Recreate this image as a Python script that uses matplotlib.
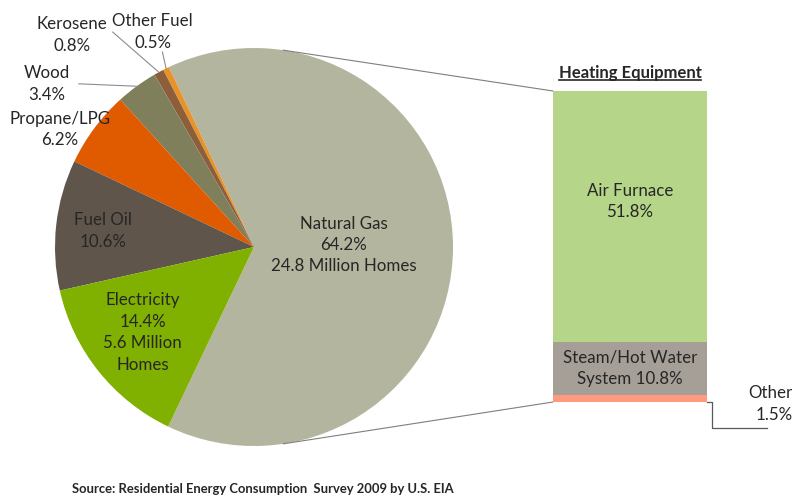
import numpy as np
import matplotlib.pyplot as plt
from matplotlib.patches import ConnectionPatch

plt.rcParams['font.family'] = ['Lato', 'DejaVu Sans']

# pie data (counter-clockwise starting with the split slice)
fuels = ['Natural Gas', 'Other Fuel', 'Kerosene', 'Wood', 'Propane/LPG', 'Fuel Oil', 'Electricity']
fuel_share = [64.2, 0.5, 0.8, 3.4, 6.2, 10.6, 14.4]
fuel_colors = ['#B3B59E', '#E8922A', '#8C5F3A', '#7F7F5B', '#E05A00', '#5F554B', '#80B000']

# bar data (bottom to top)
equipment = ['Other', 'Steam/Hot Water\nSystem', 'Air Furnace']
equip_share = [1.5, 10.8, 51.8]
equip_colors = ['#FF9980', '#A59F97', '#B5D588']

txt = '#262626'

fig = plt.figure(figsize=(7.94, 4.95), dpi=100)

# pie axes: centre at (254, 247) px, radius 199 px
ax = fig.add_axes([55 / 794, (495 - 446) / 495, 398 / 794, 398 / 495])
start = -fuel_share[0] / 100 * 360 / 2
wedges, _ = ax.pie(fuel_share, colors=fuel_colors, startangle=start,
                   counterclock=True, radius=1, wedgeprops=dict(linewidth=0))
ax.set_xlim(-1, 1)
ax.set_ylim(-1, 1)
ax.set_aspect('equal')


def pct(v):
    return '%.1f%%' % v


fs = 12.2
ls = 1.42
# labels inside the pie
ax.text(0.45, 0.01, 'Natural Gas\n%s\n24.8 Million Homes' % pct(fuel_share[0]),
        ha='center', va='center', fontsize=fs, color=txt, linespacing=ls)
ax.text(-0.56, -0.43, 'Electricity\n%s\n5.6 Million\nHomes' % pct(fuel_share[6]),
        ha='center', va='center', fontsize=fs, color=txt, linespacing=ls)
ax.text(-0.76, 0.08, 'Fuel Oil\n%s' % pct(fuel_share[5]),
        ha='center', va='center', fontsize=fs, color=txt, linespacing=ls)

# labels outside the pie
outside = {
    4: ((-0.975, 0.59), None),
    3: ((-1.04, 0.82), (-0.88, 0.82)),
    2: ((-0.915, 1.065), (-0.71, 1.08)),
    1: ((-0.51, 1.08), (-0.46, 0.98)),
}
for i, (pos, lead) in outside.items():
    ax.text(pos[0], pos[1], '%s\n%s' % (fuels[i], pct(fuel_share[i])),
            ha='center', va='center', fontsize=fs, color=txt, linespacing=ls)
    if lead is not None:
        w = wedges[i]
        mid = np.deg2rad((w.theta1 + w.theta2) / 2)
        ax.plot([lead[0], np.cos(mid)], [lead[1], np.sin(mid)],
                color='#8c8c8c', lw=0.8, clip_on=False)

# stacked bar for heating equipment
bx = fig.add_axes([553 / 794, (495 - 402) / 495, 154 / 794, 311 / 495])
bottom = 0
for name, v, c in zip(equipment, equip_share, equip_colors):
    bx.bar(0, v, width=1, bottom=bottom, color=c, linewidth=0)
    bottom += v
total = sum(equip_share)
bx.set_xlim(-0.5, 0.5)
bx.set_ylim(0, total)
bx.axis('off')

bx.text(0, equip_share[0] + equip_share[1] + equip_share[2] * 0.56,
        '%s\n%s' % (equipment[2], pct(equip_share[2])),
        ha='center', va='center', fontsize=fs, color=txt, linespacing=ls)
bx.text(0, equip_share[0] + equip_share[1] / 2,
        'Steam/Hot Water\nSystem %s' % pct(equip_share[1]),
        ha='center', va='center', fontsize=fs, color=txt, linespacing=ls)
bx.text(1.055, -0.4, 'Other\n%s' % pct(equip_share[0]),
        ha='right', va='center', fontsize=fs, color=txt, linespacing=ls)
bx.plot([0.5, 0.53, 0.53, 0.89], [0, 0, -5.3, -5.3], color='#595959',
        lw=0.9, clip_on=False)

head = bx.text(0, total + 3.7, 'Heating Equipment', ha='center', va='center',
               fontsize=12, fontweight='bold', color=txt)

# connectors from the pie to the bar
a = np.deg2rad(81.6)
for sgn, yb in [(1, total), (-1, 0)]:
    con = ConnectionPatch(xyA=(np.cos(a), sgn * np.sin(a)), coordsA=ax.transData,
                          xyB=(-0.5, yb), coordsB=bx.transData,
                          color='#7f7f7f', lw=0.8)
    fig.add_artist(con)

fig.text(72 / 794, 1 - 489 / 495,
         'Source: Residential Energy Consumption  Survey 2009 by U.S. EIA',
         ha='left', va='center', fontsize=9.4, fontweight='bold', color=txt)

# underline the heading
fig.canvas.draw()
bb = head.get_window_extent().transformed(fig.transFigure.inverted())
fig.add_artist(plt.Line2D([bb.x0, bb.x1], [bb.y0 + 0.002, bb.y0 + 0.002],
                          color=txt, lw=1.2, transform=fig.transFigure))

fig.savefig('out.png', dpi=100)
